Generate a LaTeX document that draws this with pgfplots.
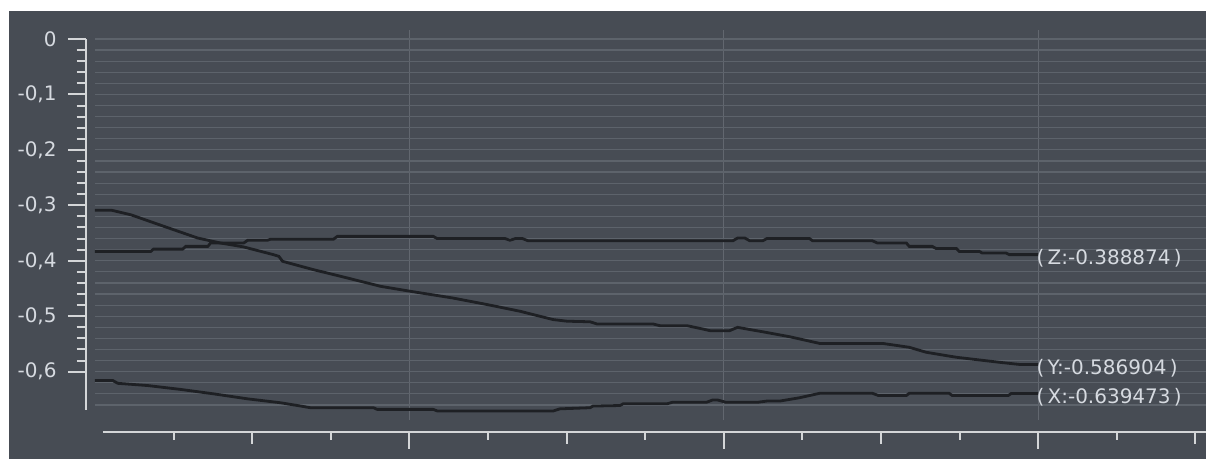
\documentclass[border=0pt]{standalone}
\usepackage{fontspec}
\setmainfont{DejaVu Sans}
\usepackage{pgfplots}
\pgfplotsset{compat=1.18}

\definecolor{panel}{HTML}{474C54}
\definecolor{hgrid}{HTML}{5D636B}
\definecolor{vgrid}{HTML}{62676F}
\definecolor{axisline}{HTML}{D4D6D8}
\definecolor{labeltext}{HTML}{D6DAE0}
\definecolor{trace}{HTML}{1E2024}

\tikzset{
  readout/.style={anchor=west, inner sep=0pt, xshift=-1.5pt, yshift=-2pt,
    text=labeltext, font=\fontsize{10pt}{12pt}\selectfont},
}

\begin{document}
\begin{tikzpicture}
% white frame and dark panel (1px = 0.5pt)
\fill[white] (0,0) rectangle (603.5pt,229.5pt);
\fill[panel] (4.5pt,0) rectangle (603.5pt,224pt);

% plot area: grid and the three traces
\begin{axis}[
  at={(47.5pt,19.5pt)}, anchor=south west,
  scale only axis, width=556pt, height=195pt,
  xmin=0, xmax=353.4, ymin=-0.68649, ymax=0.01622,
  xtick={100,200,300},
  ytick={-0.66,-0.64,-0.62,-0.60,-0.58,-0.56,-0.54,-0.52,-0.50,-0.48,-0.46,-0.44,-0.42,-0.40,-0.38,-0.36,-0.34,-0.32,-0.30,-0.28,-0.26,-0.24,-0.22,-0.20,-0.18,-0.16,-0.14,-0.12,-0.10,-0.08,-0.06,-0.04,-0.02,0},
  xticklabels={}, yticklabels={},
  tick style={draw=none},
  axis line style={draw=none},
  grid=major,
  x grid style={vgrid, line width=0.5pt},
  y grid style={hgrid, line width=0.6pt},
  clip=false,
]
% Z
\addplot[trace, line width=1.4pt] coordinates {
 (0,-0.383) (6,-0.383) (17.8,-0.383) (18.6,-0.379) (27.9,-0.379) (28.9,-0.374)
 (35.9,-0.374) (36.8,-0.368) (47.3,-0.368) (48.6,-0.363) (54.9,-0.363) (55.9,-0.361)
 (75.9,-0.361) (77.1,-0.356) (107.6,-0.356) (108.9,-0.360) (130.5,-0.360) (132,-0.363)
 (133.7,-0.360) (136,-0.360) (137.8,-0.364) (202.9,-0.364) (204.4,-0.359) (206.7,-0.359)
 (208.3,-0.364) (212.4,-0.364) (213.7,-0.360) (227.3,-0.360) (228.3,-0.364) (247.3,-0.364)
 (248.9,-0.368) (258.1,-0.368) (259,-0.374) (266.3,-0.374) (267.6,-0.378) (274,-0.378)
 (274.9,-0.383) (281.3,-0.383) (282.2,-0.386) (289.8,-0.386) (290.8,-0.3889) (300,-0.388874)
} node[readout, pos=1] {(\,Z:-0.388874\,)};
% Y
\addplot[trace, line width=1.4pt] coordinates {
 (0,-0.309) (5.4,-0.309) (11.4,-0.317) (22,-0.338) (32.7,-0.359) (40,-0.368)
 (47.3,-0.375) (56.8,-0.389) (58.5,-0.392) (59.7,-0.401) (69.5,-0.416) (80.3,-0.431)
 (90.8,-0.446) (100.3,-0.455) (113.7,-0.467) (124.8,-0.479) (135.2,-0.491) (145.7,-0.506)
 (150.2,-0.509) (157.5,-0.510) (159.7,-0.514) (177.5,-0.514) (179.7,-0.517) (188.3,-0.517)
 (193.3,-0.523) (195.6,-0.526) (201.9,-0.526) (204.4,-0.520) (208.3,-0.524) (212.4,-0.528)
 (221,-0.537) (230.5,-0.549) (250.5,-0.549) (259,-0.556) (264.4,-0.565) (274,-0.574)
 (287.6,-0.583) (294,-0.5869) (300,-0.586904)
} node[readout, pos=1] {(\,Y:-0.586904\,)};
% X
\addplot[trace, line width=1.4pt] coordinates {
 (0,-0.616) (5.7,-0.616) (7.3,-0.621) (16.8,-0.625) (27.3,-0.632) (37.8,-0.640)
 (48.6,-0.649) (59,-0.656) (64.4,-0.661) (68.6,-0.665) (88.6,-0.665) (89.8,-0.668)
 (107.6,-0.668) (109,-0.671) (145.7,-0.671) (147.9,-0.667) (157.5,-0.665) (158.4,-0.662)
 (167,-0.661) (168,-0.658) (181.9,-0.658) (183.8,-0.655) (194.6,-0.655) (196.5,-0.651)
 (198,-0.651) (200.6,-0.655) (211,-0.655) (213.7,-0.653) (217.8,-0.653) (224.1,-0.647)
 (230.5,-0.639) (247.3,-0.639) (249.2,-0.643) (258.1,-0.643) (259,-0.639) (271.7,-0.639)
 (272.7,-0.643) (290.5,-0.643) (291.4,-0.6395) (300,-0.639473)
} node[readout, pos=1] {(\,X:-0.639473\,)};
\end{axis}

% value axis on the left
\begin{axis}[
  at={(43pt,24.5pt)}, anchor=south west,
  scale only axis, width=10pt, height=185.5pt,
  xmin=0, xmax=1, ymin=-0.6685, ymax=0,
  axis y line*=left, axis x line=none,
  ytick={-0.6,-0.5,-0.4,-0.3,-0.2,-0.1,0},
  minor y tick num=4,
  tick align=outside,
  major tick length=9pt, minor tick length=4.6pt,
  axis line style={axisline, line width=1pt, -},
  tick style={axisline, line width=1pt},
  yticklabel style={text=labeltext, inner sep=0pt, xshift=-5.5pt,
    font=\fontsize{10pt}{12pt}\selectfont,
    /pgf/number format/.cd, fixed, precision=1, use comma, assume math mode=true},
]
\end{axis}

% time axis at the bottom
\begin{axis}[
  at={(51.5pt,13.5pt)}, anchor=south west,
  scale only axis, width=552pt, height=10pt,
  xmin=2.54, xmax=353.4, ymin=0, ymax=1,
  axis x line*=bottom, axis y line=none,
  xtick={100,200,300}, xticklabels={},
  minor xtick={25,75,125,175,225,275,325},
  extra x ticks={50,150,250,350}, extra x tick labels={},
  extra tick style={major tick length=6pt},
  tick align=outside,
  major tick length=8.5pt, minor tick length=4pt,
  axis line style={axisline, line width=1pt, -},
  tick style={axisline, line width=1pt},
]
\end{axis}
\end{tikzpicture}
\end{document}
